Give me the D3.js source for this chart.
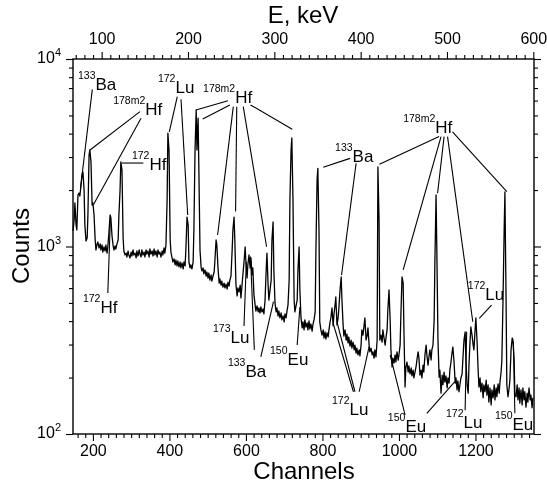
<!DOCTYPE html>
<html>
<head>
<meta charset="utf-8">
<script src="https://cdn.jsdelivr.net/npm/d3@7"></script>
<style>
  body { margin: 0; background: #fff; }
  svg { font-family: "Liberation Sans", Arial, sans-serif; will-change: transform; }
  text { fill: #000; }
</style>
</head>
<body>
<svg id="chart"></svg>
<script>
// axis ranges and tick labels
var chDomain = [148, 1353];
var eDomain = [66.8, 600.8];
var countDomain = [100, 10000];
var chTicks = [200, 400, 600, 800, 1000, 1200];
var eTicks = [100, 200, 300, 400, 500, 600];
var countTicks = [100, 1000, 10000];

// spectrum: [channel, counts]
var spectrum = [
  [148,1211],[151,1384],[153,1707],[156,1303],[158,1225],[161,1884],[164,1928],[166,1858],[169,2128],[172,2437],
  [174,2495],[177,2001],[179,1303],[182,1070],[185,1110],[187,1472],[190,3076],[192,3273],[195,2826],[198,1665],
  [200,1707],[203,1472],[206,1083],[208,958],[211,1032],[213,1057],[216,982],[219,1032],[221,958],[224,1019],
  [226,934],[229,994],[232,946],[234,1019],[237,922],[239,994],[242,1194],[245,1472],[247,1419],[250,1138],
  [253,1007],[255,958],[258,1007],[260,970],[263,1032],[266,1083],[268,1472],[271,2001],[273,2826],[276,2559],
  [279,1110],[281,946],[284,901],
  [287,922],[289,879],[292,946],[294,901],[297,869],[300,934],[302,890],[305,958],[307,901],[310,922],
  [313,869],[315,946],[318,890],[321,958],[323,911],[326,879],[328,958],[331,901],[334,934],[336,879],
  [339,958],[341,911],[344,946],[347,879],[349,970],[352,911],[355,946],[357,890],[360,970],[362,901],
  [365,946],[368,879],[370,958],[373,911],[375,934],[378,879],[381,946],[383,901],[386,982],[388,922],
  [391,1019],[394,1771],[396,4027],[399,3273],[402,1083],[404,934],[407,869],
  [409,827],[412,858],[415,797],[417,847],[420,788],[422,837],[425,778],[428,827],[430,769],[433,817],
  [436,759],[438,827],[441,788],[443,958],[446,1436],[449,1303],[451,827],[454,769],[456,797],[459,759],
  [462,827],[464,1225],[467,3273],[470,5346],[472,3273],[475,4842],[477,2559],[480,958],[483,769],[485,741],
  [488,769],[490,714],[493,750],[496,696],[498,731],[501,679],[503,722],[506,662],[509,705],[511,654],
  [514,696],[517,731],[519,847],[522,1083],[524,1019],[527,769],[530,638],[532,671],[535,623],[537,654],
  [540,608],[543,638],[545,601],[548,630],[551,593],[553,646],[556,615],[558,662],[561,696],[564,958],
  [566,1225],[569,1436],[571,1083],[574,623],[577,545],[579,601],[582,572],[585,623],[587,532],[590,630],
  [592,705],[595,827],[598,994],
  [600,827],[603,679],[605,797],[608,901],[611,769],[613,869],[616,705],[618,769],[621,552],[624,488],
  [626,453],[629,482],[632,448],[634,470],[637,442],[639,476],[642,448],[645,464],[647,437],[650,518],
  [653,750],[655,922],[658,623],[660,518],[663,586],[666,662],[668,1083],[671,1351],[673,750],[676,500],
  [679,448],[681,470],[684,426],[686,453],[689,416],[692,442],[694,406],[697,426],[700,396],[702,437],
  [705,416],[707,448],[710,488],[713,662],[715,1771],[718,3273],[720,3793],[723,1771],[726,518],[728,448],
  [731,482],[734,518],[736,750],[739,994],[741,586],
  [744,416],[747,368],[749,396],[752,359],[754,406],[757,372],[760,391],[762,359],[765,401],[767,363],
  [770,386],[773,354],[775,382],[778,406],[781,448],[783,958],[786,2265],[788,2611],[791,1225],[793,396],
  [796,359],[799,337],[802,359],[804,325],[807,350],[809,321],[812,346],[815,329],[817,359],[820,396],
  [822,416],[825,470],[828,377],[830,432],[833,488],[835,538],[838,382],[841,416],[843,470],[846,586],
  [849,688],[851,518],[854,382],[856,333],[859,359],[862,317],[864,341],[867,306],[869,329],[872,294],
  [875,317],[877,287],[880,309],[883,281],[885,298],[888,270],[890,287],[893,264],[896,281],[898,261],
  [901,298],[903,359],[906,337],[909,382],[911,416],[914,317],[917,337],[919,368],[922,298],[924,274],
  [927,287],[930,264],[932,274],[935,254],[937,281],[940,258],[943,317],[945,2656],
  [948,1384],[950,317],[953,337],[956,309],[958,359],[961,325],[964,298],[966,325],[969,359],[971,458],
  [974,586],[977,406],[979,281],[982,228],[984,254],[987,239],[990,264],[992,242],[995,274],[998,248],
  [1000,264],[1003,298],[1005,426],[1008,688],[1011,638],[1013,359],[1016,178],[1018,225],[1021,242],[1024,214],
  [1026,231],[1029,209],[1032,225],[1034,204],[1037,219],[1039,199],[1042,214],[1045,231],[1047,248],[1050,274],
  [1052,258],[1055,206],[1058,219],[1060,199],[1063,233],[1065,214],[1068,264],[1071,298],[1073,264],[1076,233],
  [1079,264],[1081,281],[1084,248],[1086,281],[1089,298],[1092,406],[1094,847],[1097,1884],
  [1099,958],[1102,317],[1105,201],[1107,219],[1110,165],[1113,206],[1115,183],[1118,214],[1120,189],[1123,204],
  [1126,176],[1128,199],[1131,187],[1133,219],[1136,242],[1139,274],[1141,291],[1144,242],[1147,187],[1149,199],
  [1152,172],[1154,192],[1157,168],[1160,187],[1162,199],[1165,209],[1167,248],[1170,317],[1173,350],[1175,248],
  [1178,183],[1181,165],[1183,233],[1186,317],[1188,372],[1191,337],[1194,298],[1196,281],[1199,359],[1201,416],
  [1204,317],[1207,219],[1209,178],[1212,199],[1214,168],[1217,187],[1220,156],[1222,183],[1225,168],[1228,194],
  [1230,161],[1233,183],[1235,148],[1238,176],[1241,143],[1243,172],[1246,156],[1249,183],[1251,152],[1254,176],
  [1256,158],[1259,185],[1262,165],[1264,189],[1267,214],[1269,248],[1272,518],[1275,1225],[1277,1954],
  [1280,518],[1282,183],[1285,158],[1288,176],[1290,194],[1293,281],[1296,325],[1298,317],[1301,248],[1303,161],
  [1306,158],[1309,183],[1311,152],[1314,176],[1316,146],[1319,172],[1322,143],[1324,176],[1327,152],[1329,168],
  [1332,139],[1335,165],[1337,148],[1340,176],[1343,152],[1345,161],[1348,138],[1350,156]
];

// nuclide labels: [mass, element, channel, counts] (left edge, baseline)
var labels = [
  ["133","Ba",161,6839], ["178m2","Hf",253,5024], ["172","Hf",302,2559], ["172","Lu",370,6592],
  ["178m2","Hf",488,5818], ["133","Ba",833,2826], ["178m2","Hf",1011,4027], ["172","Lu",1180,518],
  ["172","Hf",174,442], ["173","Lu",514,305], ["133","Ba",553,201], ["150","Eu",663,233],
  ["172","Lu",825,126], ["150","Eu",971,102.5], ["172","Lu",1123,107.6], ["150","Eu",1251,105]
];

// leader lines: [ch1, counts1, ch2, counts2]
var leaders = [
  [198.5,6890,167.6,2051],
  [323,5236,192.4,3273], [325.8,4831,201,1665],
  [331.8,2787,275.3,2787],
  [420.6,6295,399.7,4091], [430.3,6096,447.8,1472],
  [553,5995,469.5,5346], [558,5690,487,4786], [567,5570,526,1151], [576,5570,573,1535],
  [593,5570,654,997], [612,5690,721,4216],
  [872,2951,802,2644], [888,2779,850,705],
  [1105,3855,949,2742], [1110,3855,1011,750], [1118,3855,1101,1923], [1127,3855,1193,397], [1140,4091,1282,1959],
  [1242,487,1210,414],
  [239,565,246,1455],
  [595,377,601,826],
  [622,281,612,883], [639,258,672,508],
  [734,298,741,475],
  [881,168,828,389], [885,168,839,389], [896,168,922,292],
  [1016,126,977,264], [1073,129,1146,190],
  [1173,134,1177,351],
  [1303,129,1299,310]
];

var width = 547, height = 486;
var plotLeft = 73, plotRight = 534, plotTop = 59, plotBottom = 434;

var svg = d3.select("#chart").attr("width", width).attr("height", height);

var x = d3.scaleLinear().domain(chDomain).range([plotLeft, plotRight]);
var xE = d3.scaleLinear().domain(eDomain).range([plotLeft, plotRight]);
var y = d3.scaleLog().domain(countDomain).range([plotBottom, plotTop]);

var chMinor = d3.range(160, 1353, 20).filter(function (v) { return chTicks.indexOf(v) < 0; });
var eMinor = d3.range(70, 601, 10).filter(function (v) { return eTicks.indexOf(v) < 0; });
var countMinor = [200,300,400,500,600,700,800,900,2000,3000,4000,5000,6000,7000,8000,9000];

function axisGroup(t, ax) {
    var g = svg.append("g").attr("transform", t).call(ax);
    g.select(".domain").remove();
    g.selectAll("line").attr("stroke", "#000").attr("stroke-width", 1.1);
    g.selectAll("text").attr("fill", "#000").style("font-size", "16px");
    g.attr("font-family", null);
    return g;
}

var fmt = d3.format("d");

// bottom: channels
axisGroup("translate(0," + plotBottom + ")", d3.axisBottom(x).tickValues(chMinor).tickSize(4).tickFormat(""));
axisGroup("translate(0," + plotBottom + ")", d3.axisBottom(x).tickValues(chTicks).tickSize(7).tickPadding(4).tickFormat(fmt));
// top: energy
axisGroup("translate(0," + plotTop + ")", d3.axisTop(xE).tickValues(eMinor).tickSize(4).tickFormat(""));
axisGroup("translate(0," + plotTop + ")", d3.axisTop(xE).tickValues(eTicks).tickSize(7).tickPadding(8).tickFormat(fmt));
// left and right: counts
axisGroup("translate(" + plotLeft + ",0)", d3.axisLeft(y).tickValues(countMinor).tickSize(4).tickFormat(""));
axisGroup("translate(" + plotLeft + ",0)", d3.axisLeft(y).tickValues(countTicks).tickSize(7).tickFormat(""));
axisGroup("translate(" + plotRight + ",0)", d3.axisRight(y).tickValues(countMinor).tickSize(4).tickFormat(""));
axisGroup("translate(" + plotRight + ",0)", d3.axisRight(y).tickValues(countTicks).tickSize(7).tickFormat(""));

// power-of-ten labels
var powLab = svg.append("g").selectAll("text").data(countTicks).enter().append("text")
    .attr("x", 61)
    .attr("y", function (d) { return y(d) + 4; })
    .attr("text-anchor", "end")
    .style("font-size", "16px");
powLab.append("tspan").text("10");
powLab.append("tspan").attr("dy", -7).style("font-size", "11px")
    .text(function (d) { return Math.round(Math.log10(d)); });

// frame
svg.append("rect")
    .attr("x", plotLeft).attr("y", plotTop)
    .attr("width", plotRight - plotLeft).attr("height", plotBottom - plotTop)
    .attr("fill", "none").attr("stroke", "#000").attr("stroke-width", 1.4);

// spectrum
var line = d3.line()
    .x(function (d) { return x(d[0]); })
    .y(function (d) { return y(d[1]); });

svg.append("path")
    .datum(spectrum)
    .attr("d", line)
    .attr("fill", "none")
    .attr("stroke", "#000")
    .attr("stroke-width", 1.3)
    .attr("stroke-linejoin", "round");

// leader lines
svg.append("g").selectAll("line").data(leaders).enter().append("line")
    .attr("x1", function (d) { return x(d[0]); })
    .attr("y1", function (d) { return y(d[1]); })
    .attr("x2", function (d) { return x(d[2]); })
    .attr("y2", function (d) { return y(d[3]); })
    .attr("stroke", "#000")
    .attr("stroke-width", 1.1);

// nuclide labels
var lab = svg.append("g").selectAll("text").data(labels).enter().append("text")
    .attr("x", function (d) { return x(d[2]); })
    .attr("y", function (d) { return y(d[3]); });
lab.append("tspan").attr("dy", -11).style("font-size", "10.5px").text(function (d) { return d[0]; });
lab.append("tspan").attr("dy", 11).style("font-size", "17px").text(function (d) { return d[1]; });

// axis titles
svg.append("text").attr("x", 304).attr("y", 479).attr("text-anchor", "middle")
    .style("font-size", "24px").text("Channels");
svg.append("text").attr("x", 303).attr("y", 23).attr("text-anchor", "middle")
    .style("font-size", "24px").text("E, keV");
svg.append("text").attr("transform", "translate(29,246) rotate(-90)").attr("text-anchor", "middle")
    .style("font-size", "24px").text("Counts");
</script>
</body>
</html>
